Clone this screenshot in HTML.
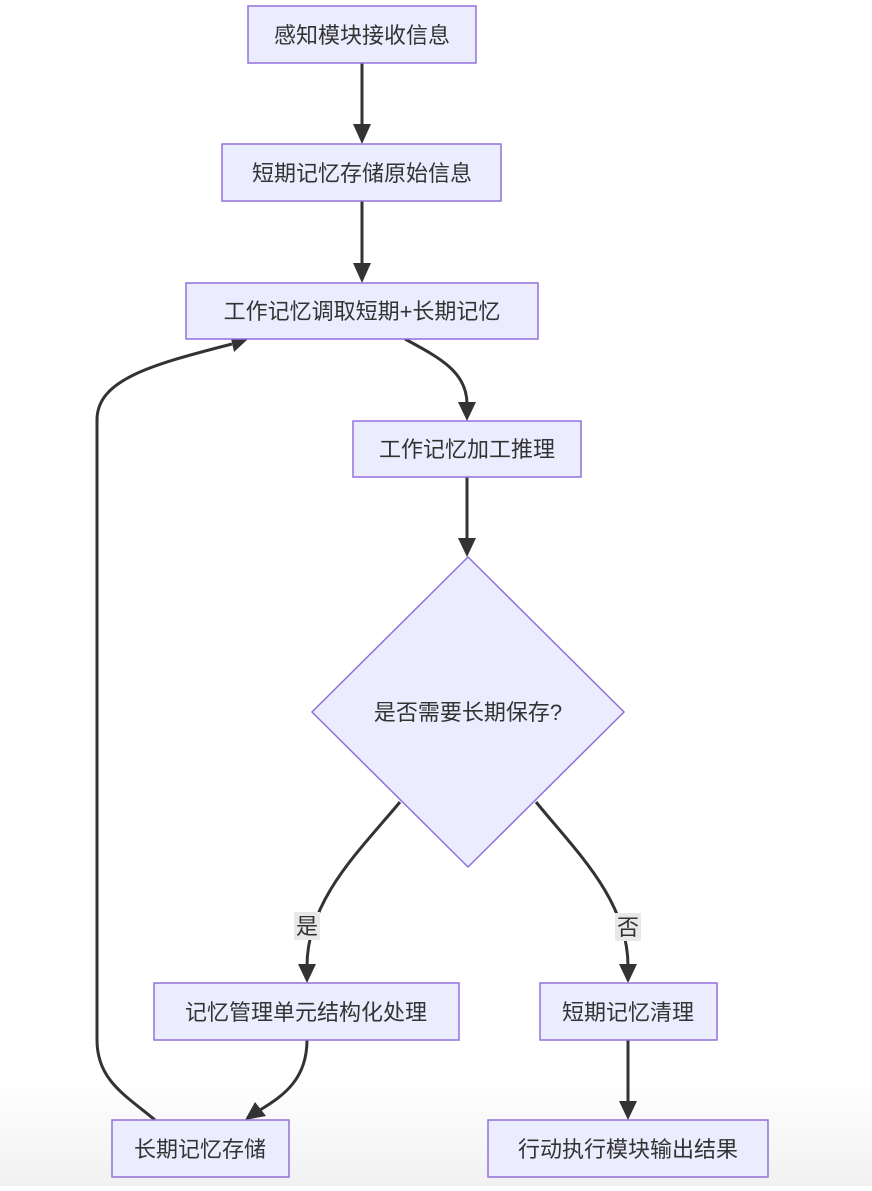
<!DOCTYPE html>
<html><head><meta charset="utf-8"><style>
html,body{margin:0;padding:0;}
body{width:872px;height:1186px;overflow:hidden;background:linear-gradient(#fff 0,#fff 1080px,#f1f1f1 1186px);font-family:"Liberation Sans","Noto Sans CJK SC",sans-serif;}
svg text{font-family:"Liberation Sans","Noto Sans CJK SC",sans-serif;font-size:22px;fill:#333;}
</style></head><body>
<svg width="872" height="1186" viewBox="0 0 872 1186" xmlns="http://www.w3.org/2000/svg">
<defs>
<marker id="a" viewBox="0 0 10 10" refX="9" refY="5" markerWidth="9" markerHeight="9" markerUnits="userSpaceOnUse" orient="auto">
</marker>
</defs>
<g fill="none" stroke="#333" stroke-width="3">
<path d="M362 63 V126"/>
<path d="M362 201 V265"/>
<path d="M405 339 C440 358 467 372 467 404"/>
<path d="M467 477 V540"/>
<path d="M400 802 C360 850 307 900 307 966"/>
<path d="M536 802 C575 850 628 900 628 966"/>
<path d="M628 1040 V1103"/>
<path d="M307 1040 C307 1078 285 1095 260 1110"/>
<path d="M155 1120 C125 1095 97 1080 97 1040 V420 C97 380 150 365 232 344"/>
</g>
<g fill="#333">
<polygon points="353,124 371,124 362,144"/>
<polygon points="353,263 371,263 362,283"/>
<polygon points="458,402 476,402 467,421"/>
<polygon points="458,538 476,538 467,557"/>
<polygon points="298,964 316,964 307,983"/>
<polygon points="619,964 637,964 628,983"/>
<polygon points="619,1101 637,1101 628,1120"/>
<polygon points="245,1120 255,1102 266,1116"/>
<polygon points="248,339 230,334 234,352"/>
</g>
<g fill="#ECECFF" stroke="#9370DB" stroke-width="1.5">
<rect x="248" y="6" width="228" height="57"/>
<rect x="222" y="144" width="279" height="57"/>
<rect x="186" y="283" width="352" height="56"/>
<rect x="353" y="421" width="228" height="56"/>
<polygon points="468,557 624,712 468,867 312,712"/>
<rect x="154" y="983" width="305" height="57"/>
<rect x="540" y="983" width="177" height="57"/>
<rect x="112" y="1120" width="177" height="57"/>
<rect x="488" y="1120" width="280" height="57"/>
</g>
<rect x="294" y="912" width="26" height="28" fill="#e8e8e8"/>
<rect x="615" y="913" width="26" height="28" fill="#e8e8e8"/>
<g text-anchor="middle">
<text x="362" y="43">感知模块接收信息</text>
<text x="362" y="181">短期记忆存储原始信息</text>
<text x="362" y="319">工作记忆调取短期+长期记忆</text>
<text x="467" y="457">工作记忆加工推理</text>
<text x="468" y="720">是否需要长期保存?</text>
<text x="307" y="934">是</text>
<text x="628" y="935">否</text>
<text x="306" y="1020">记忆管理单元结构化处理</text>
<text x="628" y="1020">短期记忆清理</text>
<text x="200" y="1157">长期记忆存储</text>
<text x="628" y="1157">行动执行模块输出结果</text>
</g>
</svg>
</body></html>
